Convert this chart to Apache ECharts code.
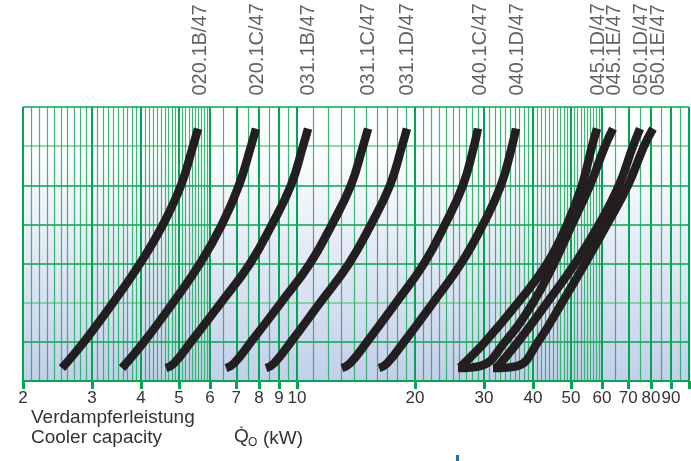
<!DOCTYPE html>
<html>
<head>
<meta charset="utf-8">
<script src="https://cdn.jsdelivr.net/npm/echarts@6/dist/echarts.min.js"></script>
<style>
html,body{margin:0;padding:0;background:#fff;}
#chart{width:691px;height:461px;}
</style>
</head>
<body>
<div id="chart"></div>
<script>
// ---- data (x = cooler capacity kW, y = chart units 0..7) ----
const curveNames = ['020.1B/47','020.1C/47','031.1B/47','031.1C/47','031.1D/47','040.1C/47','040.1D/47','045.1D/47','045.1E/47','050.1D/47','050.1E/47'];
// x position (kW) of each rotated model label above the chart
const labelX = [5.657, 7.95, 10.67, 15.18, 19.08, 29.30, 36.41, 58.60, 64.74, 75.44, 83.35];
const labelY = 6.45;

const c020_1B = [[2.515,0.33],[2.861,1],[3.394,2],[3.977,3],[4.552,4],[5.060,5],[5.429,6],[5.590,6.45]];
const c020_1C = [[3.578,0.33],[4.071,1],[4.827,2],[5.657,3],[6.437,4],[7.112,5],[7.633,6],[7.860,6.45]];
const c031_1B = [[4.632,0.33],[4.855,0.45],[5.365,1],[6.399,2],[7.588,3],[8.634,4],[9.654,5],[10.36,6],[10.67,6.45]];
const c031_1C = [[6.590,0.33],[6.907,0.45],[7.633,1],[9.103,2],[10.79,3],[12.28,4],[13.73,5],[14.74,6],[15.18,6.45]];
const c031_1D = [[8.335,0.33],[8.736,0.45],[9.654,1],[11.45,2],[13.57,3],[15.45,4],[17.27,5],[18.53,6],[19.08,6.45]];
const c040_1C = [[13.02,0.33],[13.65,0.45],[15.09,1],[17.89,2],[21.09,3],[23.86,4],[26.51,5],[28.28,6],[28.95,6.45]];
const c040_1D = [[16.19,0.33],[16.97,0.45],[18.75,1],[22.23,2],[26.21,3],[29.83,4],[33.14,5],[35.36,6],[36.20,6.45]];
const c045_1D = [[26.05,0.35],[30.18,1],[36.63,2],[43.43,3],[48.84,4],[53.33,5],[56.57,6],[58.25,6.45]];
const c045_1E = [[25.75,0.33],[29.30,0.38],[33.93,1],[39.99,2],[45.25,3],[50.30,4],[55.90,5],[61.05,6],[63.99,6.45]];
const c050_1D = [[32.38,0.35],[36.63,1],[43.43,2],[51.19,3],[58.93,4],[66.28,5],[71.96,6],[74.99,6.45]];
const c050_1E = [[31.62,0.33],[36.41,0.38],[41.19,1],[47.42,2],[54.29,3],[61.77,4],[69.89,5],[76.77,6],[80.95,6.45]];

const tickLabels = [2,3,4,5,6,7,8,9,10,20,30,40,50,60,70,80,90];
const majorTicks = [2,3,4,5,6,7,8,9,10,20,30,40,50,60,70,80,90,100];

// minor vertical grid lines of the log paper
const minorGrid = [];
for (let i = 21; i < 60; i++) { if (i % 10) minorGrid.push(i / 10); }
[6.5,7.5,8.5,9.5].forEach(v => minorGrid.push(v));
for (let i = 11; i < 20; i++) minorGrid.push(i);
for (let i = 21; i < 60; i++) { if (i % 10) minorGrid.push(i); }
[65,75,85,95].forEach(v => minorGrid.push(v));

const curves = [c020_1B,c020_1C,c031_1B,c031_1C,c031_1D,c040_1C,c040_1D,c045_1D,c045_1E,c050_1D,c050_1E];

const GREEN = '#00a651';
const FONT = 'Liberation Sans, Arial, sans-serif';

const chart = echarts.init(document.getElementById('chart'), null, {renderer:'canvas'});

const gridLineData = [];
minorGrid.forEach(v => gridLineData.push({xAxis: v, lineStyle: {color: '#19ad5a', width: 1.2, type: 'solid', opacity: 0.85}}));
majorTicks.forEach(v => gridLineData.push({xAxis: v, lineStyle: {color: GREEN, width: 2, type: 'solid'}}));

const series = [{
  type: 'line', data: [], silent: true, z: 1,
  markLine: {
    z: 1, silent: true, symbol: ['none','none'], animation: false,
    label: {show: false},
    data: gridLineData
  }
}];

curves.forEach((c, i) => {
  series.push({
    type: 'line', name: curveNames[i], data: c,
    showSymbol: false, symbol: 'none', smooth: 0.45, z: 10,
    lineStyle: {width: 8.5, color: '#231f20', cap: 'butt', join: 'round'},
    animation: false
  });
});

series.push({
  type: 'scatter', z: 11, symbolSize: 0, silent: true,
  data: curveNames.map((n, i) => ({name: n, value: [labelX[i], labelY]})),
  label: {
    show: true, formatter: '{b}', position: 'top', distance: 33,
    rotate: 90, align: 'left', verticalAlign: 'middle',
    fontSize: 20, color: '#3a3a3a', fontFamily: FONT
  }
});

chart.setOption({
  animation: false,
  grid: {
    left: 23, right: 2, top: 107, bottom: 80, show: true, borderWidth: 0,
    backgroundColor: new echarts.graphic.LinearGradient(0, 0, 0, 1, [
      {offset: 0, color: '#ffffff'}, {offset: 0.14, color: '#ffffff'}, {offset: 1, color: '#c2cfea'}
    ])
  },
  xAxis: {
    type: 'log', logBase: 10, min: 2, max: 100,
    axisLine: {show: true, lineStyle: {color: GREEN, width: 2}},
    axisTick: {show: true, customValues: majorTicks, length: 8, lineStyle: {color: GREEN, width: 3}},
    axisLabel: {show: true, customValues: tickLabels, color: '#333', fontSize: 17, margin: 9, fontFamily: FONT},
    splitLine: {show: false}, minorTick: {show: false}, minorSplitLine: {show: false}
  },
  yAxis: {
    type: 'value', min: 0, max: 7, interval: 1,
    axisLine: {show: false}, axisTick: {show: false}, axisLabel: {show: false},
    splitLine: {show: true, lineStyle: {color: [GREEN, GREEN, '#6cc993', GREEN, GREEN, GREEN, '#6cc993', GREEN], width: 1.5}}
  },
  graphic: [
    {type: 'text', left: 31, top: 408, style: {text: 'Verdampferleistung\nCooler capacity', fontSize: 19, lineHeight: 20, fill: '#333', fontFamily: FONT}},
    {type: 'text', left: 234, top: 427, style: {text: 'Q\u0307', fontSize: 19, fill: '#333', fontFamily: FONT}},
    {type: 'text', left: 248, top: 437, style: {text: 'O', fontSize: 12, fill: '#333', fontFamily: FONT}},
    {type: 'text', left: 263, top: 429, style: {text: '(kW)', fontSize: 19, fill: '#333', fontFamily: FONT}},
    {type: 'rect', shape: {x: 456, y: 455, width: 3, height: 6}, style: {fill: '#1f6fb5'}}
  ],
  series: series
});
</script>
</body>
</html>
